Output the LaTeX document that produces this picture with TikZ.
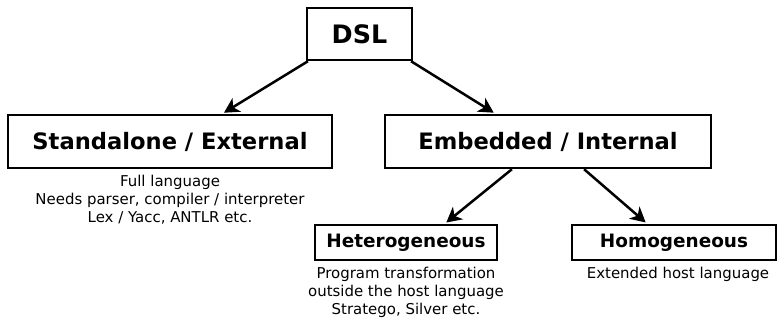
\documentclass[tikz,border=0pt]{standalone}
\usepackage{fontspec}
\setmainfont{DejaVu Sans}
\usetikzlibrary{arrows.meta,calc}
\begin{document}
\begin{tikzpicture}[x=1bp,y=-1bp,
  box/.style={draw,line width=2.5bp,inner sep=0pt},
  note/.style={align=center,inner sep=0pt,font=\fontsize{15}{18}\selectfont},
  arr/.style={line width=2.5bp,-{Stealth[length=15bp,width=16bp,inset=4.5bp]},shorten >=2bp}]
\useasboundingbox (0,0) rectangle (777,320);
\node[box,minimum width=105bp,minimum height=52bp,font=\fontsize{25.5}{28}\selectfont\bfseries] (dsl) at (359.5,34) {DSL};
\node[box,minimum width=324bp,minimum height=53bp,font=\fontsize{22.7}{26}\selectfont\bfseries] (std) at (170,141.5) {Standalone / External};
\node[box,minimum width=326bp,minimum height=53bp,font=\fontsize{22.7}{26}\selectfont\bfseries] (emb) at (548,141.5) {Embedded / Internal};
\node[box,minimum width=182bp,minimum height=35bp,font=\fontsize{18.5}{22}\selectfont\bfseries] (het) at (406,242.5) {Heterogeneous};
\node[box,minimum width=204bp,minimum height=35bp,font=\fontsize{18.5}{22}\selectfont\bfseries] (hom) at (674,242.5) {Homogeneous};
\node[note,anchor=north] (stdn) at (170,175) {Full language\\Needs parser, compiler / interpreter\\Lex / Yacc, ANTLR etc.};
\node[note,anchor=north] (hetn) at (406,267) {Program transformation\\outside the host language\\Stratego, Silver etc.};
\node[note,anchor=north] (homn) at (678,267) {Extended host language};
\draw[arr] ($(dsl.south west)!0.02!(dsl.south east)$) -- ($(std.north west)!0.66!(std.north east)$);
\draw[arr] ($(dsl.south west)!0.98!(dsl.south east)$) -- ($(emb.north west)!0.34!(emb.north east)$);
\draw[arr] ($(emb.south west)!0.39!(emb.south east)$) -- ($(het.north west)!0.71!(het.north east)$);
\draw[arr] ($(emb.south west)!0.61!(emb.south east)$) -- ($(hom.north west)!0.37!(hom.north east)$);
\end{tikzpicture}
\end{document}
